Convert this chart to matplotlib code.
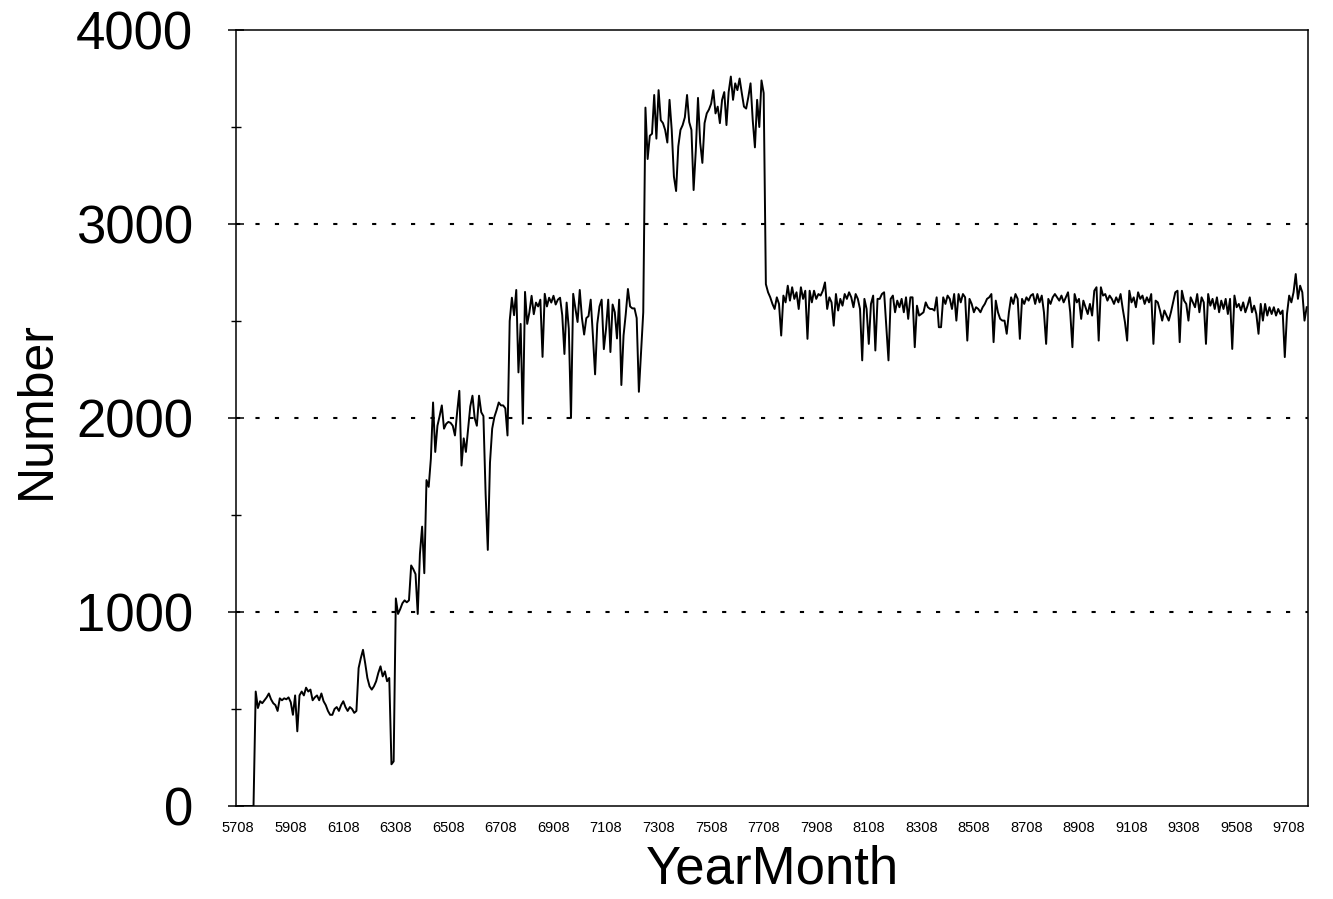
import matplotlib
matplotlib.use("Agg")
import matplotlib.pyplot as plt
from matplotlib.ticker import FixedLocator

plt.rcParams['font.family'] = ['Liberation Sans', 'DejaVu Sans']
plt.rcParams['lines.scale_dashes'] = False

# Monthly counts, starting at 5708 (YYMM), one value per month
counts_5708_6307 = [
    0, 0, 0, 0, 0, 0, 0, 0,
    590, 505, 540, 530, 545, 560, 580, 550, 530, 520, 490, 555, 545, 555, 550, 560,
    535, 470, 570, 385, 570, 590, 570, 610, 590, 600, 545, 560,
    570, 545, 580, 540, 520, 490, 470, 470, 500, 510, 490, 520,
    540, 510, 490, 510, 500, 480, 490, 711, 762, 805, 736, 660,
    617, 600, 617, 643, 686, 720, 668, 694, 643, 660, 215, 230,
]
counts_6308_6704 = [
    1070, 990, 1015, 1045, 1060, 1050, 1060, 1240, 1220, 1195, 990, 1300,
    1440, 1200, 1680, 1645, 1790, 2080, 1825, 1960, 2010, 2065, 1945, 1970,
    1980, 1975, 1960, 1910, 2030, 2140, 1755, 1895, 1825, 1945, 2060, 2115,
    2000, 1960, 2115, 2030, 2010, 1610, 1320, 1770, 1945, 2005, 2040, 2080,
    2065, 2065, 2050, 1910, 2500,
]
counts_6705_7205 = [
    2620, 2530, 2660, 2235, 2485, 1970, 2650, 2485, 2545, 2630, 2535, 2595,
    2575, 2610, 2315, 2640, 2575, 2620, 2595, 2630, 2585, 2610, 2620, 2530,
    2330, 2595, 2460, 2000, 2640, 2565, 2495, 2660, 2515, 2430, 2515, 2525,
    2610, 2425, 2225, 2485, 2575, 2610, 2355, 2460, 2610, 2340, 2585, 2545,
    2410, 2610, 2170, 2425, 2535, 2665, 2575, 2565, 2565, 2515, 2135, 2340,
    2545,
]
counts_7206_7708 = [
    3600, 3335, 3455, 3465, 3665, 3440, 3690, 3535, 3520, 3485, 3420, 3640,
    3485, 3245, 3170, 3400, 3485, 3510, 3550, 3665, 3525, 3485, 3175, 3380,
    3650, 3420, 3315, 3520, 3570, 3590, 3620, 3690, 3570, 3605, 3520, 3640,
    3680, 3510, 3680, 3760, 3640, 3725, 3690, 3750, 3675, 3605, 3595, 3655,
    3725, 3535, 3395, 3640, 3500, 3740, 3675,
]
counts_7709_8802 = [
    2690, 2648, 2622, 2588, 2562, 2622, 2588, 2425, 2631, 2596, 2682, 2605,
    2674, 2614, 2648, 2562, 2674, 2614, 2656, 2408, 2656, 2596, 2656, 2614,
    2639, 2631, 2656, 2699, 2562, 2622, 2596, 2476, 2639, 2554, 2614, 2579,
    2639, 2614, 2648, 2622, 2571, 2639, 2614, 2562, 2297, 2614, 2562, 2382,
    2588, 2631, 2348, 2614, 2614, 2639, 2648, 2476, 2297, 2614, 2631, 2545,
    2605, 2571, 2614, 2545, 2622, 2511, 2622, 2622, 2365, 2579, 2528, 2536,
    2545, 2596, 2571, 2562, 2562, 2554, 2622, 2468, 2468, 2622, 2588, 2631,
    2614, 2562, 2639, 2502, 2639, 2596, 2639, 2622, 2399, 2614, 2588, 2545,
    2571, 2562, 2545, 2571, 2588, 2614, 2622, 2639, 2391, 2605, 2545, 2511,
    2502, 2502, 2434, 2545, 2622, 2588, 2639, 2614, 2408, 2614, 2588, 2622,
    2605, 2631, 2639, 2588, 2639, 2596,
]
counts_8803_9804 = [
    2631, 2545, 2382, 2614, 2588, 2622, 2639, 2622, 2605, 2631, 2596, 2622,
    2648, 2545, 2365, 2639, 2596, 2614, 2511, 2605, 2571, 2536, 2588, 2528,
    2656, 2674, 2399, 2674, 2631, 2639, 2605, 2631, 2614, 2588, 2622, 2596,
    2639, 2562, 2494, 2399, 2656, 2596, 2622, 2571, 2648, 2614, 2631, 2588,
    2622, 2596, 2639, 2382, 2605, 2596, 2554, 2502, 2554, 2528, 2502, 2545,
    2596, 2648, 2656, 2391, 2656, 2605, 2588, 2502, 2622, 2596, 2571, 2639,
    2545, 2622, 2596, 2382, 2639, 2579, 2614, 2562, 2622, 2545, 2605, 2562,
    2614, 2536, 2614, 2356, 2631, 2571, 2588, 2554, 2596, 2545, 2579, 2622,
    2545, 2579, 2536, 2434, 2588, 2502, 2588, 2528, 2571, 2536, 2571, 2528,
    2562, 2536, 2554, 2314, 2536, 2631, 2596, 2648, 2742, 2614, 2682, 2648,
    2502, 2571,
]

tick_labels = ['5708', '5908', '6108', '6308', '6508', '6708', '6908', '7108',
               '7308', '7508', '7708', '7908', '8108', '8308', '8508', '8708',
               '8908', '9108', '9308', '9508', '9708']

counts = (counts_5708_6307 + counts_6308_6704 + counts_6705_7205
          + counts_7206_7708 + counts_7709_8802 + counts_8803_9804)
months = list(range(len(counts)))
tick_pos = [24 * i for i in range(len(tick_labels))]

fig = plt.figure(figsize=(13.33, 8.99), dpi=100)
ax = fig.add_axes([236 / 1333, 1 - 806 / 899, (1308 - 236) / 1333, (806 - 30) / 899])

ax.plot(months, counts, color='black', linewidth=1.4, zorder=3)

for level in (1000, 2000, 3000):
    ax.axhline(level, color='black', linewidth=1.5, linestyle=(0, (3, 11)), zorder=1)

ax.set_xlim(-1, 488.6)
ax.set_ylim(0, 4000)

ax.set_xticks(tick_pos)
ax.set_xticklabels(tick_labels, fontsize=10.5)
ax.tick_params(axis='x', length=0, pad=11)

ax.yaxis.set_major_locator(FixedLocator([0, 1000, 2000, 3000, 4000]))
ax.yaxis.set_minor_locator(FixedLocator([500, 1500, 2500, 3500]))
ax.tick_params(axis='y', which='major', direction='inout', length=12, width=1.1,
               labelsize=38, pad=25)
ax.tick_params(axis='y', which='minor', direction='inout', length=7, width=1.0)

for side in ('left', 'right', 'top', 'bottom'):
    ax.spines[side].set_linewidth(1.1)

ax.set_xlabel('YearMonth', fontsize=38, labelpad=7)
fig.text(37 / 1333, 1 - 410 / 899, 'Number', fontsize=36, rotation=90,
         ha='center', va='center')

fig.savefig('out.png', dpi=100, facecolor='white')
